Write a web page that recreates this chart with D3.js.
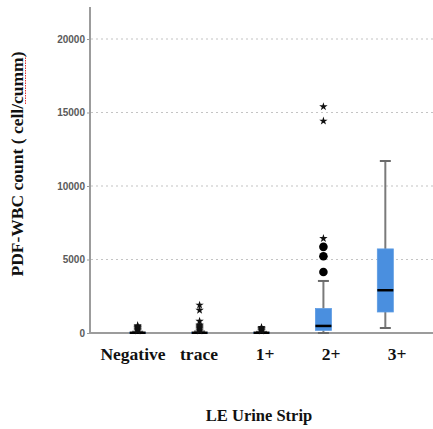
<!DOCTYPE html>
<html>
<head>
<meta charset="utf-8">
<script src="https://cdn.jsdelivr.net/npm/d3@7"></script>
<style>
  body { margin: 0; background: #fff; }
  svg { display: block; }
</style>
</head>
<body>
<div id="chart"></div>
<script>
// Box plot summary per LE urine strip category
const categories = ["Negative", "trace", "1+", "2+", "3+"];
const whiskerLow = [0, 0, 0, 0, 340];
const q1 = [0, 0, 0, 180, 1430];
const median = [15, 15, 15, 480, 2910];
const q3 = [35, 35, 30, 1660, 5720];
const whiskerHigh = [90, 110, 80, 3540, 11700];
// mild outliers (circles) and extreme outliers (stars)
const circleOutliers = [[], [], [], [4150, 5220, 5860], []];
const starOutliers = [
  [150, 210, 270, 330, 390, 450, 510],
  [150, 220, 290, 360, 430, 500, 560, 800, 1550, 1900],
  [140, 200, 260, 320, 380],
  [6430, 14420, 15400],
  []
];
const yTicks = [0, 5000, 10000, 15000, 20000];

const width = 433, height = 429;
const plotLeft = 90, plotTop = 7, plotRight = 433, plotBottom = 333;

const svg = d3.select("#chart").append("svg")
  .attr("width", width)
  .attr("height", height);

const y = d3.scaleLinear().domain([0, 20000]).range([plotBottom, 39]);

// box positions and (slightly offset) label positions
const x = d3.scalePoint().domain(categories).range([plotLeft, plotRight]).padding(0.77);
const xLabel = d3.scalePoint().domain(categories).range([133, 397]);

// dotted gridlines
svg.append("g")
  .selectAll("line")
  .data(yTicks.filter(d => d > 0))
  .join("line")
  .attr("x1", plotLeft + 1)
  .attr("x2", plotRight)
  .attr("y1", d => y(d))
  .attr("y2", d => y(d))
  .attr("stroke", "#c4c4c4")
  .attr("stroke-width", 1.2)
  .attr("stroke-dasharray", "2,3");

// y axis ticks + labels
const yAxis = svg.append("g")
  .attr("transform", `translate(${plotLeft},0)`)
  .call(d3.axisLeft(y).tickValues(yTicks).tickSize(3).tickPadding(2).tickFormat(d3.format("d")));
yAxis.select(".domain").remove();
yAxis.selectAll(".tick line").attr("stroke", "#999");
yAxis.selectAll("text")
  .attr("font-family", "Liberation Sans, Arial, sans-serif")
  .attr("font-weight", "bold")
  .attr("font-size", 10)
  .attr("fill", "#5a5a5a");

// axis lines
svg.append("line")
  .attr("x1", plotLeft).attr("x2", plotLeft)
  .attr("y1", plotTop).attr("y2", plotBottom + 1)
  .attr("stroke", "#9c9c9c").attr("stroke-width", 2);
svg.append("line")
  .attr("x1", plotLeft).attr("x2", plotRight)
  .attr("y1", plotBottom).attr("y2", plotBottom)
  .attr("stroke", "#9c9c9c").attr("stroke-width", 2);

const boxW = 16, capW = 11;
const rows = categories.map((c, i) => ({
  c, lo: whiskerLow[i], q1: q1[i], med: median[i], q3: q3[i], hi: whiskerHigh[i],
  circles: circleOutliers[i], stars: starOutliers[i]
}));

const g = svg.append("g");
const box = g.selectAll("g.box").data(rows).join("g").attr("class", "box")
  .attr("transform", d => `translate(${x(d.c)},0)`);

// whiskers
box.append("line")
  .attr("y1", d => y(d.hi)).attr("y2", d => y(d.q3))
  .attr("stroke", "#7a7a7a").attr("stroke-width", 2);
box.append("line")
  .attr("y1", d => y(d.q1)).attr("y2", d => y(d.lo))
  .attr("stroke", "#7a7a7a").attr("stroke-width", 2);
box.append("line")
  .attr("x1", -capW / 2).attr("x2", capW / 2)
  .attr("y1", d => y(d.hi)).attr("y2", d => y(d.hi))
  .attr("stroke", "#6a6a6a").attr("stroke-width", 2);
box.append("line")
  .attr("x1", -capW / 2).attr("x2", capW / 2)
  .attr("y1", d => y(d.lo)).attr("y2", d => y(d.lo))
  .attr("stroke", "#6a6a6a").attr("stroke-width", 2);

// boxes
box.append("rect")
  .attr("x", -boxW / 2)
  .attr("width", boxW)
  .attr("y", d => y(d.q3))
  .attr("height", d => y(d.q1) - y(d.q3))
  .attr("fill", "#4a8fdf")
  .attr("stroke", "#5c9be3")
  .attr("stroke-width", 0.8);

// medians
box.append("line")
  .attr("x1", -boxW / 2).attr("x2", boxW / 2)
  .attr("y1", d => y(d.med)).attr("y2", d => y(d.med))
  .attr("stroke", "#000").attr("stroke-width", 2.5);

// outliers
box.selectAll("circle")
  .data(d => d.circles)
  .join("circle")
  .attr("cy", v => y(v))
  .attr("r", 4.3)
  .attr("fill", "#000");

const star = d3.symbol().type(d3.symbolStar).size(22);
box.selectAll("path.star")
  .data(d => d.stars)
  .join("path")
  .attr("class", "star")
  .attr("transform", v => `translate(0,${y(v)})`)
  .attr("d", star)
  .attr("fill", "#111");

// category labels
svg.append("g")
  .selectAll("text")
  .data(categories)
  .join("text")
  .attr("x", d => xLabel(d))
  .attr("y", 360)
  .attr("text-anchor", "middle")
  .attr("font-family", "Liberation Serif, Times New Roman, serif")
  .attr("font-weight", "bold")
  .attr("font-size", 17.5)
  .attr("fill", "#111")
  .text(d => d);

// x title
svg.append("text")
  .attr("x", 259)
  .attr("y", 421)
  .attr("text-anchor", "middle")
  .attr("font-family", "Liberation Serif, Times New Roman, serif")
  .attr("font-weight", "bold")
  .attr("font-size", 16.5)
  .attr("fill", "#111")
  .text("LE Urine Strip");

// y title
const yTitleStr = "PDF-WBC count ( cell/cumm)";
const yTitle = svg.append("g").attr("transform", "translate(23,164) rotate(-90)");
const yt = yTitle.append("text")
  .attr("text-anchor", "middle")
  .attr("font-family", "Liberation Serif, Times New Roman, serif")
  .attr("font-weight", "bold")
  .attr("font-size", 17.5)
  .attr("fill", "#111")
  .text(yTitleStr);

// spell-check squiggle under "cumm"
const titleNode = yt.node();
const total = titleNode.getComputedTextLength();
const idx = yTitleStr.indexOf("cumm");
const start = -total / 2 + titleNode.getSubStringLength(0, idx);
const len = titleNode.getSubStringLength(idx, 4);
yTitle.append("line")
  .attr("x1", start).attr("x2", start + len)
  .attr("y1", 2.5).attr("y2", 2.5)
  .attr("stroke", "#e03030")
  .attr("stroke-width", 1)
  .attr("stroke-dasharray", "1.5,1");
</script>
</body>
</html>
